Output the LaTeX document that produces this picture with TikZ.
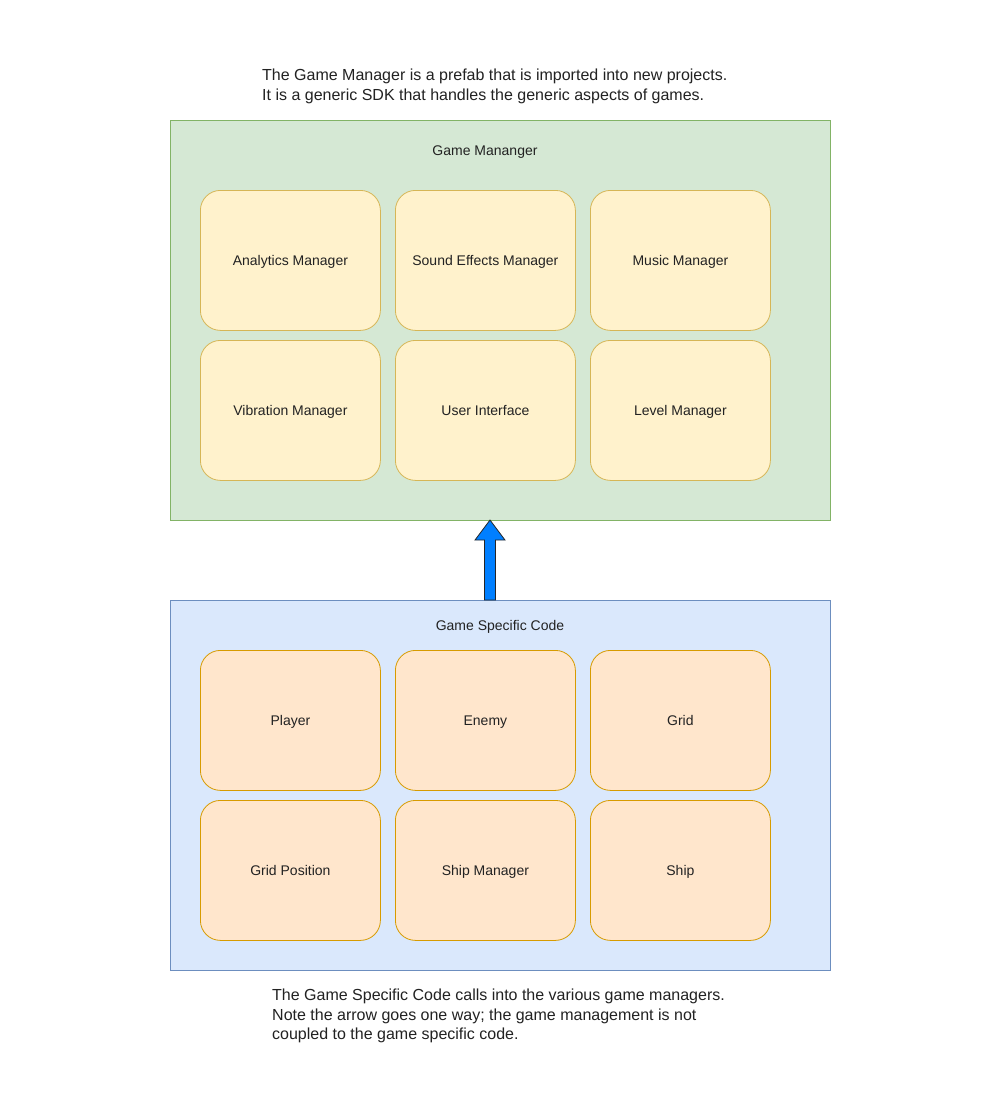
\documentclass[tikz,border=0pt]{standalone}
\usepackage{fontspec}
\setmainfont{Liberation Sans}
\usetikzlibrary{calc}
\definecolor{grnfill}{HTML}{D5E8D4}
\definecolor{grnline}{HTML}{82B366}
\definecolor{blufill}{HTML}{DAE8FC}
\definecolor{bluline}{HTML}{6C8EBF}
\definecolor{yelfill}{HTML}{FFF2CC}
\definecolor{yelline}{HTML}{D6B656}
\definecolor{orgfill}{HTML}{FFE6CC}
\definecolor{orgline}{HTML}{D79B00}
\definecolor{arrowfill}{HTML}{007FFF}
\definecolor{txt}{HTML}{222222}
\begin{document}
\begin{tikzpicture}[x=1pt,y=-1pt,
  group/.style={draw, line width=0.8pt, minimum width=660pt, anchor=north west, inner sep=0pt},
  module/.style={draw, line width=0.8pt, rounded corners=20pt, minimum width=180pt, minimum height=140pt, anchor=north west, inner sep=0pt, font=\fontsize{14}{16}\selectfont, text=txt, text height=10pt, text depth=0pt},
  manager/.style={module, fill=yelfill, draw=yelline},
  gamecode/.style={module, fill=orgfill, draw=orgline},
  title/.style={font=\fontsize{14}{16}\selectfont, text=txt, text height=10pt, text depth=0pt, inner sep=0pt},
  note/.style={font=\fontsize{16}{19.3}\selectfont, align=left, anchor=base west, inner sep=0pt, text=txt}]
\useasboundingbox (0,0) rectangle (981,1101);
\fill[white] (0,0) rectangle (981,1101);

% generic game manager
\node[group, fill=grnfill, draw=grnline, minimum height=400pt] (gm) at (170,120) {};
\node[title] (gmtitle) at (485,150) {Game Mananger};
\node[manager] (analytics) at (200,190) {Analytics Manager};
\node[manager] (sfx) at (395,190) {Sound Effects Manager};
\node[manager] (music) at (590,190) {Music Manager};
\node[manager] (vibration) at (200,340) {Vibration Manager};
\node[manager] (ui) at (395,340) {User Interface};
\node[manager] (level) at (590,340) {Level Manager};

% game specific code
\node[group, fill=blufill, draw=bluline, minimum height=370pt] (gsc) at (170,600) {};
\node[title] (gsctitle) at (500,625) {Game Specific Code};
\node[gamecode] (player) at (200,650) {Player};
\node[gamecode] (enemy) at (395,650) {Enemy};
\node[gamecode] (grid) at (590,650) {Grid};
\node[gamecode] (gridpos) at (200,800) {Grid Position};
\node[gamecode] (shipmgr) at (395,800) {Ship Manager};
\node[gamecode] (ship) at (590,800) {Ship};

% block arrow from the game code up to the managers
\coordinate (tail) at (490,600);
\coordinate (tip) at (490,520);
\draw[fill=arrowfill, draw=black!85, line width=0.8pt, line join=miter]
  ($(tail)+(-5.5,0)$) -- ($(tip)+(-5.5,20)$) -- ($(tip)+(-15,20)$) -- (tip)
  -- ($(tip)+(15,20)$) -- ($(tip)+(5.5,20)$) -- ($(tail)+(5.5,0)$) -- cycle;

% notes (anchored on the baseline of their last line)
\node[note] (topnote) at (262,100) {The Game Manager is a prefab that is imported into new projects.\\It is a generic SDK that handles the generic aspects of games.};
\node[note] (bottomnote) at (272,1039.5) {The Game Specific Code calls into the various game managers.\\Note the arrow goes one way; the game management is not\\coupled to the game specific code.};
\end{tikzpicture}
\end{document}
